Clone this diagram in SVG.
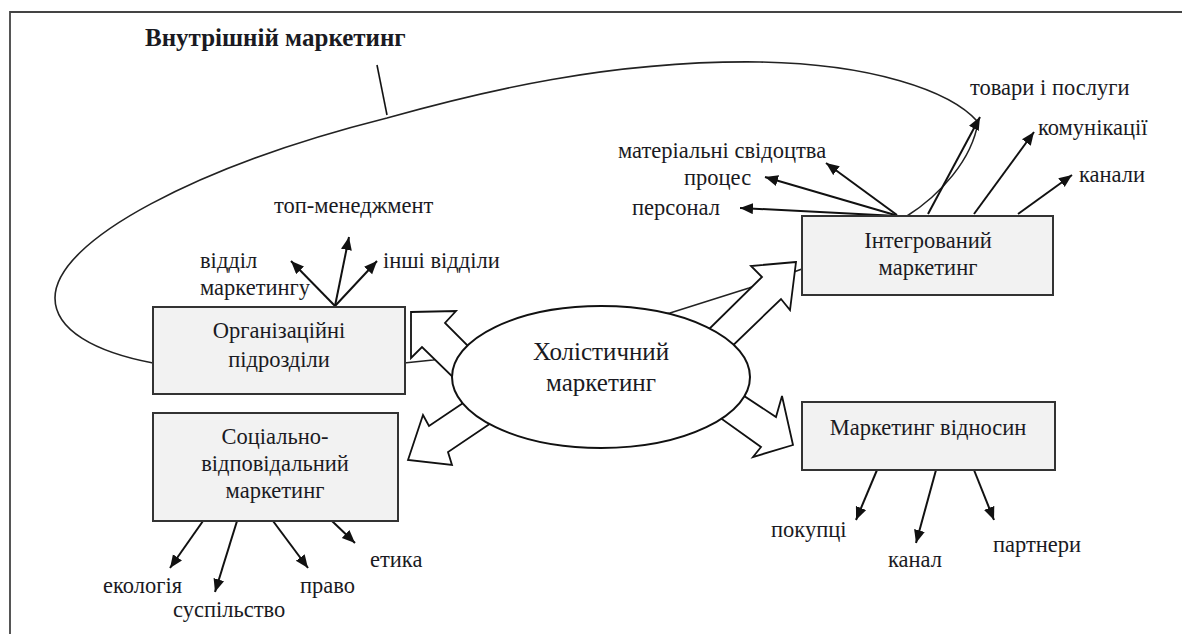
<svg xmlns="http://www.w3.org/2000/svg" width="1182" height="634" viewBox="0 0 1182 634">
<style>
.t{font-family:"Liberation Serif","Times New Roman",serif;fill:#1a1a22}
.lbl{font-size:22.5px}
.box{fill:#f2f2f2;stroke:#333;stroke-width:2}
.btxt{font-size:22.5px;text-anchor:middle}
.blk{fill:#fff;stroke:#111;stroke-width:1.8;stroke-linejoin:miter}
.ar{stroke:#111;stroke-width:2;fill:none;marker-end:url(#ah)}
</style>
<defs>
<marker id="ah" markerUnits="userSpaceOnUse" markerWidth="14" markerHeight="12" refX="13" refY="5.5" orient="auto">
<path d="M0,0 L13,5.5 L0,11 Z" fill="#111"/>
</marker>
</defs>
<rect width="1182" height="634" fill="#fff"/>
<g id="frame">
<path d="M10,634 L10,12 L1182,12" fill="none" stroke="#444" stroke-width="1.8"/>
</g>
<g id="title">
<text class="t" x="145" y="46" font-size="25" font-weight="bold">Внутрішній маркетинг</text>
<line x1="377" y1="65" x2="387" y2="115" stroke="#111" stroke-width="1.6"/>
</g>
<g id="connectors">
<path id="loop" d="M153,363 C95,352 55,330 55,298 C55,240 200,165 387,118 C480,92 610,60 760,62 C870,64 950,90 978,122 C972,160 940,195 907,216 L802,269 L749,288 L670,313 L433,360 L404,363 Z" fill="none" stroke="#222" stroke-width="1.6"/>
<polygon class="blk" points="411,312 456,311 445,323 485,363 463,387 422,347 411,358"/>
<polygon class="blk" points="408,460 423,415 429,426 478,393 497,419 448,452 452,465"/>
<polygon class="blk" points="796,262 751,266 762,277 700,338 722,356 781,299 790,310"/>
<polygon class="blk" points="793,445 782,396 776,417 735,390 712,412 761,447 753,457"/>
<line class="ar" x1="335" y1="306" x2="291" y2="261"/>
<line class="ar" x1="335" y1="306" x2="349" y2="237"/>
<line class="ar" x1="335" y1="306" x2="377" y2="261"/>
<line class="ar" x1="897" y1="216" x2="740" y2="208"/>
<line class="ar" x1="895" y1="215" x2="765" y2="177"/>
<line class="ar" x1="897" y1="215" x2="826" y2="163"/>
<line class="ar" x1="928" y1="214" x2="980" y2="117"/>
<line class="ar" x1="974" y1="214" x2="1034" y2="132"/>
<line class="ar" x1="1018" y1="214" x2="1072" y2="175"/>
<line class="ar" x1="203" y1="521" x2="170" y2="568"/>
<line class="ar" x1="237" y1="521" x2="215" y2="592"/>
<line class="ar" x1="273" y1="521" x2="308" y2="568"/>
<line class="ar" x1="332" y1="521" x2="355" y2="543"/>
<line class="ar" x1="877" y1="470" x2="856" y2="520"/>
<line class="ar" x1="936" y1="470" x2="916" y2="543"/>
<line class="ar" x1="974" y1="470" x2="994" y2="520"/>
</g>
<g id="holistic">
<ellipse cx="601" cy="377" rx="149" ry="71" fill="#fff" stroke="#111" stroke-width="2"/>
<text class="t" x="601" y="360" font-size="25" text-anchor="middle">Холістичний</text>
<text class="t" x="601" y="391" font-size="25" text-anchor="middle">маркетинг</text>
</g>
<g id="org">
<rect class="box" x="153" y="307" width="252" height="87"/>
<text class="t btxt" x="279" y="338">Організаційні</text>
<text class="t btxt" x="279" y="367">підрозділи</text>
</g>
<g id="social">
<rect class="box" x="153" y="413" width="245" height="108"/>
<text class="t btxt" x="275" y="444">Соціально-</text>
<text class="t btxt" x="275" y="471">відповідальний</text>
<text class="t btxt" x="275" y="498">маркетинг</text>
</g>
<g id="integrated">
<rect class="box" x="802" y="216" width="251" height="79"/>
<text class="t btxt" x="928" y="248">Інтегрований</text>
<text class="t btxt" x="928" y="275">маркетинг</text>
</g>
<g id="relationship">
<rect class="box" x="802" y="402" width="253" height="68"/>
<text class="t btxt" x="928" y="435">Маркетинг відносин</text>
</g>
<g id="labels">
<text class="t lbl" x="274" y="213">топ-менеджмент</text>
<text class="t lbl" x="200" y="268">відділ</text>
<text class="t lbl" x="200" y="295">маркетингу</text>
<text class="t lbl" x="383" y="268">інші відділи</text>
<text class="t lbl" x="618" y="158">матеріальні свідоцтва</text>
<text class="t lbl" x="684" y="185">процес</text>
<text class="t lbl" x="632" y="215">персонал</text>
<text class="t lbl" x="970" y="95">товари і послуги</text>
<text class="t lbl" x="1038" y="135">комунікації</text>
<text class="t lbl" x="1079" y="182">канали</text>
<text class="t lbl" x="103" y="593">екологія</text>
<text class="t lbl" x="173" y="617">суспільство</text>
<text class="t lbl" x="300" y="593">право</text>
<text class="t lbl" x="370" y="567">етика</text>
<text class="t lbl" x="771" y="537">покупці</text>
<text class="t lbl" x="888" y="567">канал</text>
<text class="t lbl" x="993" y="552">партнери</text>
</g>
</svg>
